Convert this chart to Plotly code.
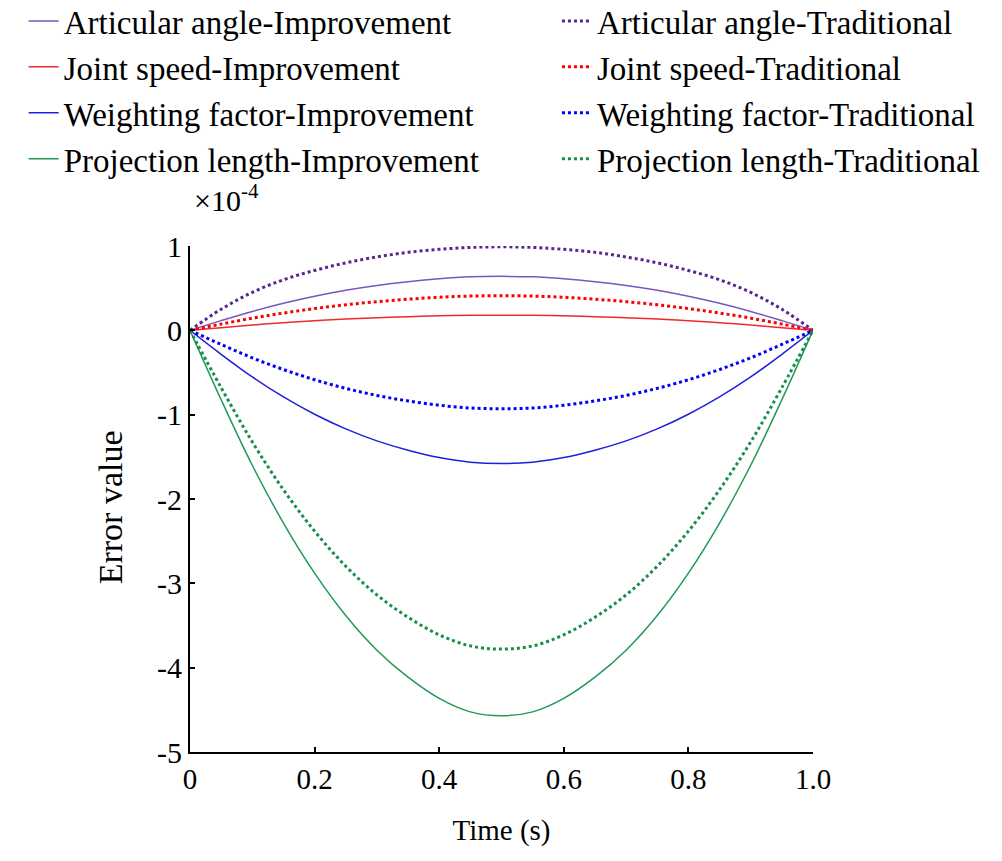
import plotly.graph_objects as go

time_s = [0, 0.05, 0.1, 0.15, 0.2, 0.25, 0.3, 0.35, 0.4, 0.45, 0.5,
          0.55, 0.6, 0.65, 0.7, 0.75, 0.8, 0.85, 0.9, 0.95, 1.0]

aa_imp = [0, 0.115, 0.224, 0.32, 0.403, 0.474, 0.531, 0.576, 0.611, 0.634, 0.64,
          0.634, 0.611, 0.576, 0.531, 0.474, 0.403, 0.32, 0.224, 0.115, 0]
aa_trad = [0, 0.25, 0.45, 0.60, 0.71, 0.80, 0.87, 0.925, 0.96, 0.983, 0.99,
           0.983, 0.96, 0.925, 0.87, 0.80, 0.71, 0.60, 0.45, 0.25, 0]
js_imp = [0, 0.032, 0.063, 0.09, 0.113, 0.133, 0.149, 0.162, 0.172, 0.178, 0.18,
          0.178, 0.172, 0.162, 0.149, 0.133, 0.113, 0.09, 0.063, 0.032, 0]
js_trad = [0, 0.074, 0.144, 0.205, 0.258, 0.303, 0.340, 0.369, 0.392, 0.406, 0.41,
           0.406, 0.392, 0.369, 0.340, 0.303, 0.258, 0.205, 0.144, 0.074, 0]
wf_imp = [0, -0.284, -0.553, -0.79, -0.995, -1.169, -1.311, -1.422, -1.509, -1.564, -1.58,
          -1.564, -1.509, -1.422, -1.311, -1.169, -0.995, -0.79, -0.553, -0.284, 0]
wf_trad = [0, -0.167, -0.326, -0.465, -0.586, -0.688, -0.772, -0.837, -0.888, -0.921, -0.93,
           -0.921, -0.888, -0.837, -0.772, -0.688, -0.586, -0.465, -0.326, -0.167, 0]
pl_imp = [0, -0.823, -1.60, -2.285, -2.879, -3.382, -3.793, -4.113, -4.364, -4.524, -4.57,
          -4.524, -4.364, -4.113, -3.793, -3.382, -2.879, -2.285, -1.60, -0.823, 0]
pl_trad = [0, -0.680, -1.323, -1.89, -2.381, -2.797, -3.137, -3.402, -3.61, -3.742, -3.78,
           -3.742, -3.61, -3.402, -3.137, -2.797, -2.381, -1.89, -1.323, -0.680, 0]

x_tickvals = [0, 0.2, 0.4, 0.6, 0.8, 1.0]
x_ticktext = ["0", "0.2", "0.4", "0.6", "0.8", "1.0"]
y_tickvals = [1, 0, -1, -2, -3, -4, -5]
y_ticktext = ["1", "0", "-1", "-2", "-3", "-4", "-5"]

series = [
    ("Articular angle-Improvement", aa_imp, "#7557c0", "solid", 1.5, "legend"),
    ("Joint speed-Improvement", js_imp, "#ee2a2a", "solid", 1.5, "legend"),
    ("Weighting factor-Improvement", wf_imp, "#1f1fdd", "solid", 1.5, "legend"),
    ("Projection length-Improvement", pl_imp, "#1f9a55", "solid", 1.5, "legend"),
    ("Articular angle-Traditional", aa_trad, "#56288f", "dot", 3, "legend2"),
    ("Joint speed-Traditional", js_trad, "#ff0000", "dot", 3, "legend2"),
    ("Weighting factor-Traditional", wf_trad, "#0000ff", "dot", 3, "legend2"),
    ("Projection length-Traditional", pl_trad, "#149048", "dot", 3, "legend2"),
]

font_family = "Liberation Serif, Times New Roman, serif"

fig = go.Figure()
for name, ys, color, dash, w, lg in series:
    fig.add_trace(go.Scatter(
        x=time_s, y=ys, mode="lines", name=name, legend=lg,
        line=dict(color=color, dash=dash, width=w, shape="spline"),
    ))

legend_common = dict(
    orientation="v", xref="paper", yref="paper",
    xanchor="left", yanchor="top",
    font=dict(family=font_family, size=33, color="black"),
    itemwidth=30, bgcolor="rgba(0,0,0,0)", traceorder="normal",
)

fig.update_layout(
    width=1002, height=861,
    paper_bgcolor="white", plot_bgcolor="white",
    margin=dict(l=182, r=197, t=238, b=117, autoexpand=False),
    font=dict(family=font_family, color="black", size=24),
    showlegend=True,
    legend=dict(x=-0.267, y=1.50, **legend_common),
    legend2=dict(x=0.589, y=1.50, **legend_common),
    xaxis=dict(
        range=[0, 1], tickvals=x_tickvals, ticktext=x_ticktext, automargin=True,
        showgrid=False, zeroline=False, showline=True, linecolor="black", linewidth=2,
        ticks="inside", ticklen=5, tickwidth=1.5, tickcolor="black",
        tickfont=dict(size=29), ticklabelstandoff=0,
        title=dict(text="Time (s)", font=dict(size=29), standoff=26),
    ),
    yaxis=dict(
        range=[-5, 1], tickvals=y_tickvals, ticktext=y_ticktext, automargin=False,
        showgrid=False, zeroline=False, showline=True, linecolor="black", linewidth=2,
        ticks="inside", ticklen=5, tickwidth=1.5, tickcolor="black",
        tickfont=dict(size=30),
    ),
    annotations=[
        dict(
            text="×10<sup>-4</sup>", x=0, y=1, xref="paper", yref="paper",
            xanchor="left", yanchor="bottom", xshift=2, yshift=27,
            showarrow=False, font=dict(size=30),
        ),
        dict(
            text="Error value", x=-0.128, y=0.484, xref="paper", yref="paper",
            xanchor="center", yanchor="middle", textangle=-90,
            showarrow=False, font=dict(size=34),
        ),
    ],
)

fig.write_html("out.html")
